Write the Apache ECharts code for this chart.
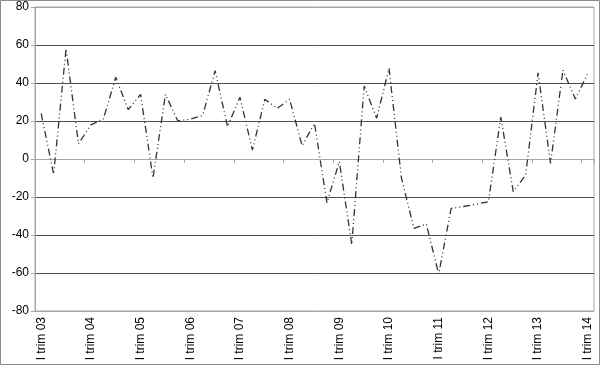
<!DOCTYPE html>
<html>
<head>
<meta charset="utf-8">
<script src="https://cdn.jsdelivr.net/npm/echarts@6/dist/echarts.min.js"></script>
<style>
html,body{margin:0;padding:0;background:#fff;}
#chart{width:600px;height:365px;}
</style>
</head>
<body>
<div id="chart"></div>
<script>
var years = ['03','04','05','06','07','08','09','10','11','12','13','14'];
var quarters = ['I','II','III','IV'];
var categories = [];
years.forEach(function(y, yi){
  quarters.forEach(function(q, qi){
    if (yi === years.length - 1 && qi > 0) return;
    categories.push(q + ' trim ' + y);
  });
});
var values = [
  24, -8, 58, 8, 18, 21, 43, 26, 34, -10, 34, 20,
  21, 23, 46.5, 17, 32.5, 4.7, 31.4, 26.7, 31.4, 7, 18.8, -23,
  -1.4, -45, 38.4, 21.5, 47.7, -10, -36.5, -34.2, -60.5, -26, -25, -23.8,
  -22.5, 22, -17.2, -8.4, 45.4, -2.3, 46.8, 31.6, 45
];
var yMin = -80, yMax = 80, yStep = 20;

var font = 'Liberation Sans, Arial, sans-serif';
var chart = echarts.init(document.getElementById('chart'), null, {renderer: 'canvas'});
chart.setOption({
  animation: false,
  backgroundColor: '#fff',
  graphic: [{
    type: 'rect', silent: true,
    shape: {x: 0.5, y: 0.5, width: 599, height: 364},
    style: {fill: 'none', stroke: '#8c8c8c', lineWidth: 1}
  }],
  grid: {left: 35, right: 6, top: 7, bottom: 54, show: true, borderColor: '#a6a6a6', borderWidth: 1},
  xAxis: [{
    type: 'category', data: categories, boundaryGap: true, position: 'bottom',
    axisLine: {show: true, onZero: true, lineStyle: {color: '#a6a6a6', width: 1}},
    axisTick: {show: true, interval: 3, length: 4, lineStyle: {color: '#a6a6a6'}},
    axisLabel: {show: false},
    splitLine: {show: false}
  }, {
    type: 'category', data: categories, boundaryGap: true, position: 'bottom',
    axisLine: {show: false, onZero: false},
    axisTick: {show: false},
    axisLabel: {show: true, interval: 3, rotate: 90, fontSize: 12, color: '#000', fontFamily: font, margin: 6},
    splitLine: {show: false}
  }],
  yAxis: {
    type: 'value', min: yMin, max: yMax, interval: yStep,
    axisLine: {show: true, lineStyle: {color: '#a6a6a6'}},
    axisTick: {show: true, length: 4, lineStyle: {color: '#a6a6a6'}},
    axisLabel: {fontSize: 12, color: '#000', fontFamily: font, margin: 6},
    splitLine: {show: true, lineStyle: {width: 1, color: ['#a6a6a6','#505050','#505050','#505050','#a6a6a6','#505050','#505050','#505050','#a6a6a6']}}
  },
  series: [{
    type: 'line', xAxisIndex: 0, data: values,
    symbol: 'none', smooth: false,
    lineStyle: {color: '#333', width: 1.3, type: [7, 3, 1, 3, 1, 3]}
  }]
});
</script>
</body>
</html>
